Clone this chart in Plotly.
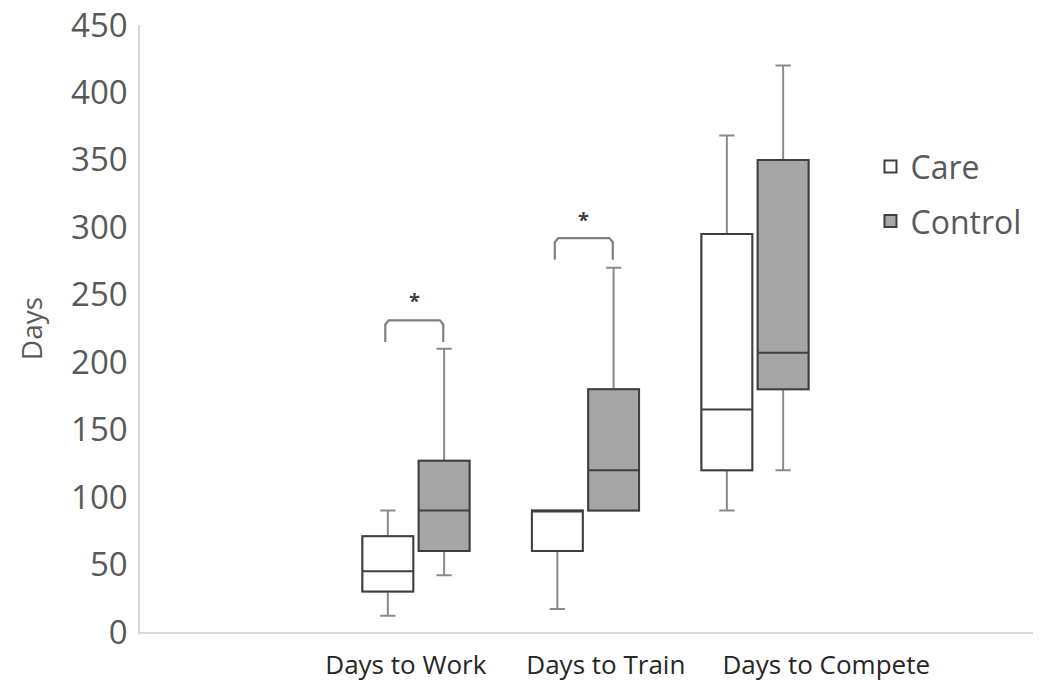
import plotly.graph_objects as go

categories = ["Days to Work", "Days to Train", "Days to Compete"]
groups = ["Care", "Control"]

care_min = [12, 17, 90]
care_q1 = [30, 60, 120]
care_med = [45, 90, 165]
care_q3 = [71, 90, 295]
care_max = [90, 90, 368]

ctrl_min = [42, 90, 120]
ctrl_q1 = [60, 90, 180]
ctrl_med = [90, 120, 207]
ctrl_q3 = [127, 180, 350]
ctrl_max = [210, 270, 420]

# significance brackets (Work, Train)
sig_cat = [0, 1]
bracket_low = [215, 276]
bracket_high = [231, 292]
star_y = [246, 306]

y_ticks = [0, 50, 100, 150, 200, 250, 300, 350, 400, 450]

# layout constants (label placement as in the original figure)
LABEL_POS = [-0.06, 1.12, 2.42]
OFF = 0.166
BW = 0.30
FONT = "Open Sans"
TXT = "#595959"
WHISK = "#8a8a8a"
EDGE = "#3f3f3f"

fig = go.Figure()

series = [
    ("Care", -OFF, "#ffffff", care_min, care_q1, care_med, care_q3, care_max),
    ("Control", OFF, "#a6a6a6", ctrl_min, ctrl_q1, ctrl_med, ctrl_q3, ctrl_max),
]

for name, off, fill, lo, q1, med, q3, hi in series:
    xs = [i + off for i in range(len(categories))]
    # full box with whiskers (gray)
    fig.add_trace(go.Box(
        name=name, x=xs, q1=q1, median=med, q3=q3,
        lowerfence=lo, upperfence=hi,
        width=BW, whiskerwidth=0.3,
        fillcolor=fill, line=dict(color=WHISK, width=2),
        boxpoints=False, showlegend=False, hoverinfo="skip",
    ))
    # box body with darker outline
    fig.add_trace(go.Box(
        name=name, x=xs, q1=q1, median=med, q3=q3,
        lowerfence=q1, upperfence=q3,
        width=BW, whiskerwidth=0.0,
        fillcolor=fill, line=dict(color=EDGE, width=2),
        boxpoints=False, showlegend=True, legendgroup=name,
    ))

for c, lo, hi, sy in zip(sig_cat, bracket_low, bracket_high, star_y):
    x0 = c - OFF - 0.015
    x1 = c + OFF - 0.005
    d = 0.02
    fig.add_trace(go.Scatter(
        x=[x0, x0, x0 + d, x1 - d, x1, x1],
        y=[lo, hi - 3, hi, hi, hi - 3, lo],
        mode="lines", line=dict(color="#808080", width=2.2),
        showlegend=False, hoverinfo="skip",
    ))
    fig.add_annotation(x=(x0 + x1) / 2, y=sy, text="<b>*</b>", showarrow=False,
                       font=dict(family=FONT, size=20, color="#404040"))

# page body has an 8px margin: figure sized/margined so the plot area lands
# at x 140..1033, y 25..632 in the window
fig.update_layout(
    width=1048, height=674,
    margin=dict(l=132, r=23, t=17, b=50),
    paper_bgcolor="white", plot_bgcolor="white",
    font=dict(family=FONT, color=TXT),
    legend=dict(
        x=0.818, y=0.812, xanchor="left", yanchor="top",
        font=dict(family=FONT, size=32, color=TXT),
        tracegroupgap=10, bgcolor="rgba(0,0,0,0)",
    ),
)

fig.update_xaxes(
    range=[-1.628, 3.64], automargin=False,
    tickmode="array", tickvals=LABEL_POS, ticktext=categories, tickangle=0,
    tickfont=dict(family=FONT, size=26, color="#262626"),
    showline=True, linecolor="#d9d9d9", linewidth=1.5,
    showgrid=False, zeroline=False, ticks="", ticklabelstandoff=9,
    ticklabeloverflow="allow",
)
fig.update_yaxes(
    range=[0, 450], automargin=False,
    tickmode="array", tickvals=y_ticks,
    tickfont=dict(family=FONT, size=33, color=TXT),
    showline=True, linecolor="#d9d9d9", linewidth=1.5,
    showgrid=False, zeroline=False, ticks="", ticklabelstandoff=4,
    ticklabeloverflow="allow",
    title=dict(text="Days", font=dict(family=FONT, size=28, color=TXT), standoff=20),
)

fig.write_html("out.html")
